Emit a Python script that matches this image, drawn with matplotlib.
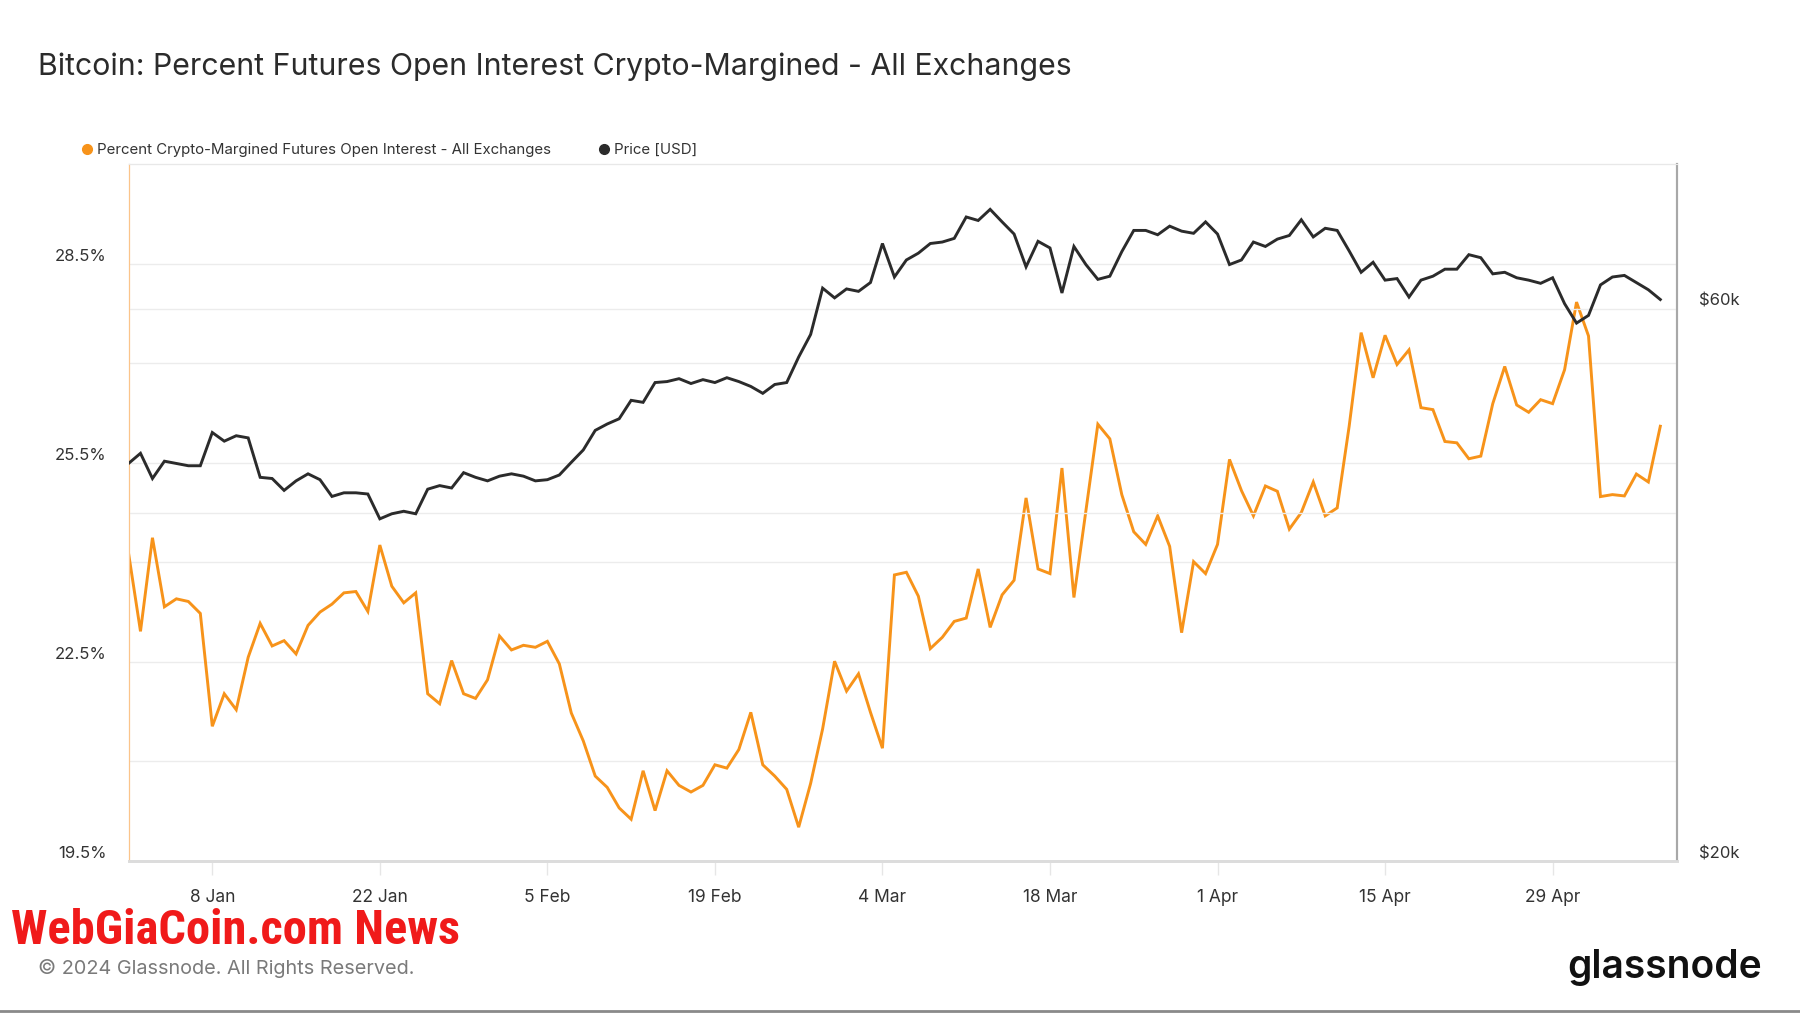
#!/usr/bin/env python3
"""Bitcoin: percent of futures open interest that is crypto-margined, vs price."""

import matplotlib

matplotlib.use("Agg")
import matplotlib.pyplot as plt
import pandas as pd
from matplotlib.lines import Line2D
from matplotlib.ticker import NullLocator

TITLE = "Bitcoin: Percent Futures Open Interest Crypto-Margined - All Exchanges"
PCT_LABEL = "Percent Crypto-Margined Futures Open Interest - All Exchanges"
PRICE_LABEL = "Price [USD]"

START_DATE = "2024-01-01"

# daily values, 1 Jan .. 8 May 2024
pct_crypto_margined = [
    24.14, 22.96, 24.37, 23.33, 23.45, 23.41, 23.23, 21.53, 22.02, 21.78,
    22.57, 23.08, 22.74, 22.82, 22.62, 23.05, 23.25, 23.37, 23.54, 23.56,
    23.26, 24.26, 23.64, 23.39, 23.54, 22.02, 21.87, 22.52, 22.02, 21.95,
    22.23, 22.89, 22.68, 22.75, 22.72, 22.81, 22.47, 21.73, 21.31, 20.78,
    20.61, 20.30, 20.13, 20.86, 20.26, 20.86, 20.64, 20.54, 20.64, 20.95,
    20.90, 21.18, 21.74, 20.95, 20.78, 20.58, 20.01, 20.67, 21.49, 22.51,
    22.06, 22.32, 21.74, 21.20, 23.81, 23.85, 23.49, 22.70, 22.87, 23.11,
    23.16, 23.90, 23.02, 23.51, 23.73, 24.97, 23.90, 23.83, 25.42, 23.47,
    24.78, 26.08, 25.86, 25.02, 24.46, 24.27, 24.70, 24.24, 22.94, 24.01,
    23.83, 24.27, 25.55, 25.08, 24.70, 25.15, 25.07, 24.50, 24.75, 25.21,
    24.70, 24.82, 26.05, 27.46, 26.78, 27.42, 26.98, 27.20, 26.33, 26.30,
    25.82, 25.80, 25.56, 25.60, 26.39, 26.95, 26.37, 26.26, 26.45, 26.39,
    26.90, 27.92, 27.41, 24.99, 25.02, 25.00, 25.33, 25.21, 26.05,
]

price_k = [
    44.1, 45.0, 42.8, 44.3, 44.1, 43.9, 43.9, 46.9, 46.1, 46.6,
    46.4, 42.9, 42.8, 41.8, 42.6, 43.2, 42.7, 41.3, 41.6, 41.6,
    41.5, 39.5, 39.9, 40.1, 39.9, 41.9, 42.2, 42.0, 43.3, 42.9,
    42.6, 43.0, 43.2, 43.0, 42.6, 42.7, 43.1, 44.2, 45.3, 47.1,
    47.7, 48.2, 50.0, 49.8, 51.8, 51.9, 52.2, 51.7, 52.1, 51.8,
    52.3, 51.9, 51.4, 50.7, 51.6, 51.8, 54.5, 57.0, 62.5, 61.3,
    62.4, 62.1, 63.2, 68.3, 63.9, 66.1, 67.0, 68.3, 68.5, 69.0,
    72.0, 71.5, 73.1, 71.3, 69.6, 65.2, 68.6, 67.7, 61.9, 67.9,
    65.5, 63.6, 64.0, 67.2, 70.1, 70.1, 69.5, 70.7, 70.0, 69.7,
    71.3, 69.6, 65.5, 66.1, 68.5, 67.9, 68.9, 69.4, 71.6, 69.2,
    70.4, 70.1, 67.3, 64.5, 65.8, 63.5, 63.7, 61.4, 63.5, 64.0,
    64.9, 64.9, 66.8, 66.4, 64.3, 64.5, 63.8, 63.5, 63.1, 63.8,
    60.6, 58.3, 59.2, 62.9, 63.9, 64.1, 63.2, 62.3, 61.1,
]

x_tick_dates = ["2024-01-08", "2024-01-22", "2024-02-05", "2024-02-19", "2024-03-04",
                "2024-03-18", "2024-04-01", "2024-04-15", "2024-04-29"]
x_tick_labels = ["8 Jan", "22 Jan", "5 Feb", "19 Feb", "4 Mar",
                 "18 Mar", "1 Apr", "15 Apr", "29 Apr"]

pct_ticks = [19.5, 22.5, 25.5, 28.5]
pct_tick_labels = ["19.5%", "22.5%", "25.5%", "28.5%"]
pct_minor_grid = [21.0, 24.0, 27.0]
price_ticks = [20000, 40000, 60000]
price_tick_labels = ["$20k", "", "$60k"]

ORANGE = "#f7931a"
DARK = "#2b2b2b"
GRID = "#ececec"
FONT = ["Inter", "DejaVu Sans"]


def main() -> int:
    plt.rcParams["font.family"] = FONT
    dates = pd.date_range(START_DATE, periods=len(pct_crypto_margined), freq="D")
    prices = [p * 1000 for p in price_k]

    fig = plt.figure(figsize=(18, 10.13), dpi=100)
    ax = fig.add_axes([0.0714, 0.150, 0.8603, 0.6881])
    ax2 = ax.twinx()

    ax.plot(dates, pct_crypto_margined, color=ORANGE, lw=2.1, solid_joinstyle="miter", zorder=3)
    ax2.plot(dates, prices, color=DARK, lw=2.1, solid_joinstyle="miter", zorder=3)

    # left axis: percent
    ax.set_ylim(19.5, 30.0)
    ax.set_yticks(pct_ticks, labels=pct_tick_labels)
    ax.set_yticks(pct_minor_grid, minor=True)
    ax.grid(axis="y", which="both", color=GRID, lw=1)
    ax.tick_params(axis="y", which="both", length=0, pad=16, labelsize=12, labelcolor="#333333")
    for label in ax.get_yticklabels():
        label.set_verticalalignment("bottom")

    # right axis: price, log scale
    ax2.set_yscale("log")
    ax2.set_ylim(20000, 80000)
    ax2.set_yticks(price_ticks, labels=price_tick_labels)
    ax2.yaxis.set_minor_locator(NullLocator())
    ax2.grid(axis="y", color=GRID, lw=1)
    ax2.tick_params(axis="y", length=0, pad=16, labelsize=12, labelcolor="#333333")
    for label in ax2.get_yticklabels():
        label.set_verticalalignment("bottom")

    ax.set_xlim(pd.Timestamp(START_DATE), pd.Timestamp(START_DATE) + pd.Timedelta(days=129.4))
    ax.set_xticks(pd.to_datetime(x_tick_dates), labels=x_tick_labels)
    ax.tick_params(axis="x", length=10, width=1, color="#e6e6e6", pad=10,
                   labelsize=12.5, labelcolor="#333333")

    for a in (ax, ax2):
        a.spines["top"].set_color("#e8e8e8")
        a.spines["bottom"].set_color("#dcdcdc")
        a.spines["bottom"].set_linewidth(2)
        a.spines["left"].set_color("#fbc48a")
        a.spines["right"].set_color("#a8a8a8")
        a.spines["right"].set_linewidth(1.5)

    fig.text(38 / 1800, 1 - 67 / 1013, TITLE, fontsize=21.8, color="#2b2b2b",
             ha="left", va="center")

    handles = [
        Line2D([], [], ls="", marker="o", markersize=7, color=ORANGE),
        Line2D([], [], ls="", marker="o", markersize=7, color=DARK),
    ]
    fig.legend(handles, [PCT_LABEL, PRICE_LABEL], loc="center left",
               bbox_to_anchor=(79 / 1800, 1 - 150 / 1013), ncol=2, frameon=False,
               fontsize=10.8, handlelength=1.0, handletextpad=0.2, columnspacing=3.0,
               borderpad=0, borderaxespad=0, labelcolor="#333333")

    fig.text(11 / 1800, 1 - 931 / 1013, "WebGiaCoin.com News", fontsize=35, color="#f01a1a",
             family=["Roboto Condensed", "Liberation Sans Narrow", "Roboto"], weight="heavy",
             ha="left", va="center")
    fig.text(38 / 1800, 1 - 968 / 1013, "© 2024 Glassnode. All Rights Reserved.",
             fontsize=14.3, color="#7a7a7a", ha="left", va="center")
    fig.text(1762 / 1800, 1 - 967 / 1013, "glassnode", fontsize=28, color="#111111",
             weight="semibold", ha="right", va="center")
    fig.add_artist(Line2D([0, 1], [0.0015, 0.0015], transform=fig.transFigure,
                          color="#8a8a8a", lw=2))

    fig.savefig("out.png", dpi=100)
    plt.close(fig)
    return 0


if __name__ == "__main__":
    raise SystemExit(main())
